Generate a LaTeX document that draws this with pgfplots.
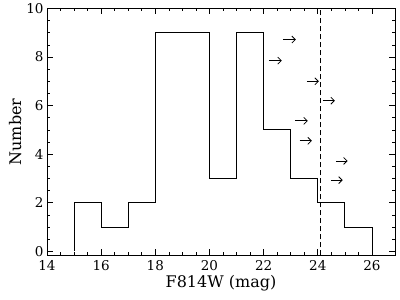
\documentclass[border=0pt]{standalone}
\usepackage{pgfplots}
\pgfplotsset{compat=1.18}
\usetikzlibrary{arrows.meta}
\usepackage{fontspec}
\setmainfont{DejaVu Serif}
\begin{document}
\begin{tikzpicture}[x=1pt,y=1pt]
\begin{axis}[
  scale only axis, width=348pt, height=247pt,
  at={(47pt,44pt)}, anchor=south west,
  xmin=14, xmax=26.85, ymin=-0.17, ymax=10,
  xtick={14,16,...,26}, ytick={0,2,...,10},
  minor x tick num=3, minor y tick num=3,
  tick align=inside, major tick length=6pt, minor tick length=3pt,
  axis line style={line width=0.8pt}, tick style={line width=0.7pt,black},
  xlabel={\fontsize{16}{18}\selectfont F814W (mag)}, ylabel={\fontsize{16}{18}\selectfont Number},
  every tick label/.append style={font=\fontsize{13.5}{15}\selectfont},
  xticklabel style={yshift=-2pt},
  /pgf/number format/assume math mode=true,
  xlabel style={yshift=3pt}, ylabel style={yshift=-2pt},
]
\addplot[const plot, line width=0.8pt, black] coordinates {
(15,0) (15,2) (16,1) (17,2) (18,9) (19,9) (20,3) (21,9) (22,5) (23,3) (24,2) (25,1) (26,1) (26,0)};
\addplot[black, line width=0.9pt, dash pattern=on 5pt off 3pt] coordinates {(24.1,-0.17) (24.1,10)};
\addplot[black, line width=0.8pt, -{Straight Barb[length=3.5pt,width=7pt]}, quiver={u=\thisrow{u}, v=0}] table {
x y u
22.71 8.72 0.48
22.19 7.85 0.48
23.60 7.00 0.44
24.18 6.20 0.45
23.15 5.37 0.48
23.33 4.55 0.45
24.67 3.72 0.43
24.48 2.93 0.44
};
\end{axis}
\useasboundingbox (0,0) rectangle (400,294);
\end{tikzpicture}
\end{document}
